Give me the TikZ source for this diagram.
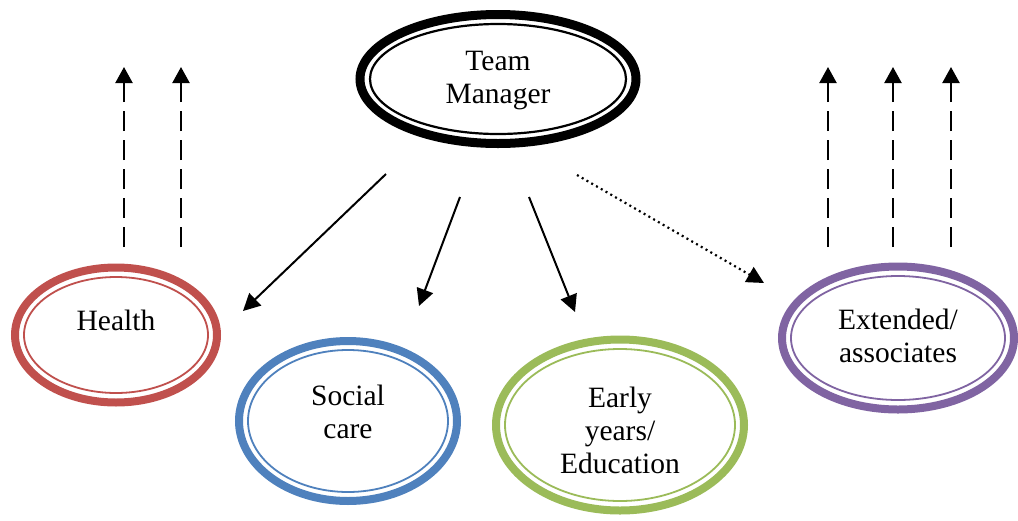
\documentclass[tikz,border=0pt]{standalone}
\usepackage{fontspec}
\setmainfont{Liberation Serif}
\usetikzlibrary{shapes.geometric,arrows.meta}
\definecolor{hred}{HTML}{C0504D}
\definecolor{sblue}{HTML}{4F81BD}
\definecolor{egreen}{HTML}{9BBB59}
\definecolor{xpurple}{HTML}{8064A2}
\begin{document}
\begin{tikzpicture}[x=1pt,y=-1pt,
  outerring/.style={ellipse, draw=#1, line width=8pt, inner sep=0pt, fill=white},
  innerring/.style={draw=#1, line width=1.8pt},
  lbl/.style={font=\fontsize{29.5}{33}\selectfont, align=center, inner sep=0pt},
  link/.style={line width=2pt, -{Triangle[width=17pt,length=17pt]}},
  upflow/.style={line width=2.2pt, dash pattern=on 20pt off 9pt, -{Triangle[width=17pt,length=16pt]}},
  dotflow/.style={line width=2.2pt, dash pattern=on 2pt off 3.5pt, -{Triangle[width=17pt,length=17pt]}}]
\useasboundingbox (0,0) rectangle (1018,520);

% Team Manager
\node[outerring=black, line width=9pt, minimum width=276pt, minimum height=129pt] (tm) at (498,79) {};
\draw[innerring=black, line width=2.2pt] (tm.center) ellipse [x radius=128pt, y radius=55pt];
\node[lbl] (tmt) at (498,81) {Team\\Manager};

% Health
\node[outerring=hred, minimum width=202pt, minimum height=135pt] (he) at (116,335) {};
\draw[innerring=hred] (he.center) ellipse [x radius=92pt, y radius=58pt];
\node[lbl] (het) at (116,320) {Health};

% Social care
\node[outerring=sblue, minimum width=218pt, minimum height=160pt] (sc) at (348,421) {};
\draw[innerring=sblue] (sc.center) ellipse [x radius=100pt, y radius=71pt];
\node[lbl] (sct) at (348,412) {Social\\care};

% Early years
\node[outerring=egreen, minimum width=248pt, minimum height=171pt] (ey) at (620,425) {};
\draw[innerring=egreen] (ey.center) ellipse [x radius=115pt, y radius=76pt];
\node[lbl] (eyt) at (620,430) {Early\\years/\\Education};

% Extended
\node[outerring=xpurple, minimum width=232pt, minimum height=143pt] (ex) at (898,338) {};
\draw[innerring=xpurple] (ex.center) ellipse [x radius=107pt, y radius=62pt];
\node[lbl] (ext) at (898,336) {Extended/\\associates};

% connector ends
\coordinate (s1) at (386,174); \coordinate (e1) at (243,311);
\coordinate (s2) at (460,197); \coordinate (e2) at (419,306);
\coordinate (s3) at (529,197); \coordinate (e3) at (575,312);
\coordinate (s4) at (577,175); \coordinate (e4) at (764,283);
\draw[link] (s1) -- (e1);
\draw[link] (s2) -- (e2);
\draw[link] (s3) -- (e3);
\draw[dotflow] (s4) -- (e4);

% upward dashed arrows
\foreach \n/\x in {a/124,b/181,c/828,d/893,e/951}{
  \coordinate (u\n0) at (\x,247);
  \coordinate (u\n1) at (\x,67);
  \draw[upflow] (u\n0) -- (u\n1);
}
\end{tikzpicture}
\end{document}
